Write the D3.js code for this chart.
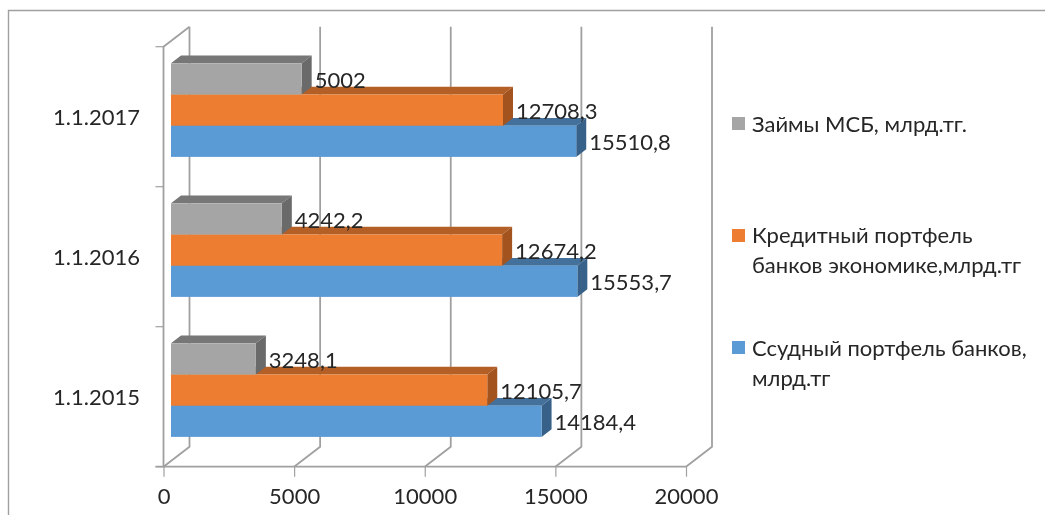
<!DOCTYPE html>
<html>
<head>
<meta charset="utf-8">
<script src="https://cdn.jsdelivr.net/npm/d3@7"></script>
<style>
  html, body { margin: 0; padding: 0; background: #fff; overflow: hidden; }
  svg { filter: blur(0.45px); }
  text { font-family: Lato, "Open Sans", sans-serif; fill: #262626; }
</style>
</head>
<body>
<div id="chart"></div>
<script>
const categories = ["1.1.2015", "1.1.2016", "1.1.2017"];
const loans = [14184.4, 15553.7, 15510.8];
const credit = [12105.7, 12674.2, 12708.3];
const sme = [3248.1, 4242.2, 5002];
const xTicks = [0, 5000, 10000, 15000, 20000];

const legendSme = ["Займы МСБ, млрд.тг."];
const legendCredit = ["Кредитный портфель", "банков экономике,млрд.тг"];
const legendLoans = ["Ссудный портфель банков,", "млрд.тг"];

const width = 1045, height = 515;
const depthX = 26, depthY = 20;      // wall offset
const barDepthX = 10, barDepthY = 7.7;
const barInset = 7.5;
const gridColor = "#a0a0a0";

const series = [
  { values: loans, key: 0, front: "#5b9bd5", top: "#44719b", side: "#386189" },
  { values: credit, key: 1, front: "#ed7d31", top: "#b45f26", side: "#a3531e" },
  { values: sme, key: 2, front: "#a5a5a5", top: "#777777", side: "#6a6a6a" }
];

const svg = d3.select("#chart").append("svg")
  .attr("width", width)
  .attr("height", height);

// frame of the pasted picture, open on the right and at the bottom
svg.append("path")
  .attr("d", "M8.5,515V10.5H1045")
  .attr("fill", "none")
  .attr("stroke", "#a0a0a0")
  .attr("stroke-width", 1.4);

const xScale = d3.scaleLinear().domain([0, 20000]).range([163.5, 686]);
const yScale = d3.scaleBand().domain(categories).range([466.7, 46.7]);
const inner = d3.scaleBand().domain([0, 1, 2]).range([0, 93.6]);
const bandTop = 16.6;

// back wall and floor
const floorY = yScale.range()[0];
const topY = yScale.range()[1];

xTicks.forEach(t => {
  const x = xScale(t);
  svg.append("path")
    .attr("d", `M${x},${floorY}L${x + depthX},${floorY - depthY}V${topY - depthY}`)
    .attr("fill", "none")
    .attr("stroke", gridColor)
    .attr("stroke-width", 1.8);
});

// left wall edge
svg.append("path")
  .attr("d", `M${xScale(0)},${floorY}V${topY}L${xScale(0) + depthX},${topY - depthY}`)
  .attr("fill", "none")
  .attr("stroke", gridColor)
  .attr("stroke-width", 1.8);

// x axis
const xAxis = d3.axisBottom(xScale).tickValues(xTicks).tickFormat(d3.format("d")).tickSize(10).tickPadding(12);
const xG = svg.append("g").attr("transform", `translate(0,${floorY})`).call(xAxis);
xG.select(".domain").remove();
xG.selectAll("line").attr("stroke", gridColor).attr("stroke-width", 1.2);
xG.selectAll("text").attr("font-size", 22).attr("fill", "#262626").style("font-family", "Lato");
svg.append("line")
  .attr("x1", xScale(0) - 8).attr("x2", xScale(20000))
  .attr("y1", floorY).attr("y2", floorY)
  .attr("stroke", gridColor).attr("stroke-width", 1.8);

// y axis ticks and category labels
const yTickYs = [floorY, ...categories.map(c => yScale(c))];
yTickYs.forEach(y => {
  svg.append("line")
    .attr("x1", xScale(0) - 8).attr("x2", xScale(0))
    .attr("y1", y).attr("y2", y)
    .attr("stroke", gridColor).attr("stroke-width", 1.2);
});
svg.selectAll(".cat").data(categories).join("text")
  .attr("class", "cat")
  .attr("x", 140)
  .attr("y", d => yScale(d) + yScale.bandwidth() / 2 + 8)
  .attr("text-anchor", "end")
  .attr("font-size", 22)
  .text(d => d);

// 3D bars, blue first so the upper ones cover its top face
categories.forEach((c, i) => {
  series.forEach(s => {
    const x0 = xScale(0) + barInset;
    const x1 = x0 + xScale(s.values[i]) - xScale(0);
    const h = inner.bandwidth();
    const y0 = yScale(c) + bandTop + inner(2 - s.key);
    const g = svg.append("g");
    g.append("path")
      .attr("d", `M${x0},${y0}L${x0 + barDepthX},${y0 - barDepthY}H${x1 + barDepthX}L${x1},${y0}Z`)
      .attr("fill", s.top);
    g.append("path")
      .attr("d", `M${x1},${y0}L${x1 + barDepthX},${y0 - barDepthY}V${y0 + h - barDepthY}L${x1},${y0 + h}Z`)
      .attr("fill", s.side);
    g.append("rect")
      .attr("x", x0).attr("y", y0)
      .attr("width", x1 - x0).attr("height", h)
      .attr("fill", s.front);
  });
});

// value labels on top of everything
categories.forEach((c, i) => {
  series.forEach(s => {
    const x1 = xScale(0) + barInset + xScale(s.values[i]) - xScale(0);
    const y0 = yScale(c) + bandTop + inner(2 - s.key);
    svg.append("text")
      .attr("x", x1 + barDepthX + 3)
      .attr("y", y0 + inner.bandwidth() / 2 + 9)
      .attr("font-size", 22)
      .text(String(s.values[i]).replace(".", ","));
  });
});

// legend
const legend = [
  { lines: legendSme, color: series[2].front, y: 117, base: 131.5 },
  { lines: legendCredit, color: series[1].front, y: 229, base: 243 },
  { lines: legendLoans, color: series[0].front, y: 341, base: 356 }
];
legend.forEach(l => {
  svg.append("rect")
    .attr("x", 732).attr("y", l.y)
    .attr("width", 13).attr("height", 13)
    .attr("fill", l.color);
  l.lines.forEach((t, j) => {
    svg.append("text")
      .attr("x", 752)
      .attr("y", l.base + j * 30)
      .attr("font-size", 22)
      .text(t);
  });
});
</script>
</body>
</html>
